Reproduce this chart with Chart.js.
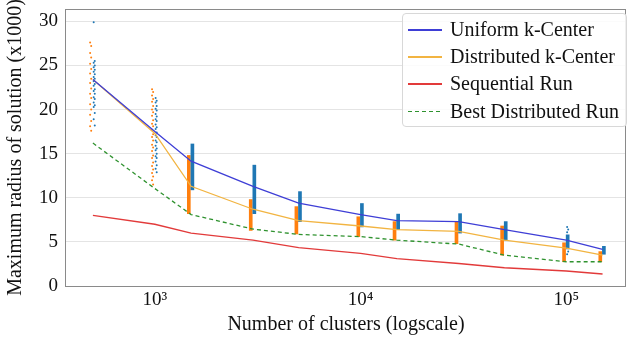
<!DOCTYPE html>
<html>
<head>
<meta charset="utf-8">
<script src="https://cdn.jsdelivr.net/npm/chart.js@4"></script>
<style>
  body { margin: 0; background: #fff; }
  #wrap { position: relative; width: 630px; height: 337px; }
  #legend {
    position: absolute; left: 402px; top: 13px; width: 225px; height: 114px;
    box-sizing: border-box; border: 1px solid #d8d8d8; border-radius: 4px;
    background: rgba(255, 255, 255, 0.85);
    font-family: "Liberation Serif", serif; font-size: 20px; color: #111;
  }
  .row { position: absolute; left: 0; height: 27px; line-height: 27px; white-space: nowrap; }
  .swatch { position: absolute; left: 5px; top: 13px; width: 34px; height: 1.5px; }
  .label { position: absolute; left: 47px; top: 0; }
</style>
</head>
<body>
<div id="wrap">
  <canvas id="chart" width="630" height="337"></canvas>
  <div id="legend"></div>
</div>
<script>
// number of clusters k
const clusters = [500, 1000, 1500, 3000, 5000, 10000, 15000, 30000, 50000, 100000, 150000];

// mean max radius (x1000)
const uniformKCenter = [23.4, 17.5, 14.15, 11.3, 9.4, 8.1, 7.4, 7.3, 6.4, 5.2, 4.15];
const distributedKCenter = [23.4, 17.3, 11.3, 8.7, 7.4, 6.8, 6.4, 6.2, 5.2, 4.3, 3.5];
const sequentialRun = [8.0, 7.0, 6.0, 5.2, 4.35, 3.7, 3.1, 2.55, 2.07, 1.7, 1.36];
const bestDistributedRun = [16.2, 11.05, 8.1, 6.45, 5.85, 5.6, 5.2, 4.75, 3.5, 2.75, 2.75];

// spread of the individual runs (dense part), null = only loose dots
const uniformSpread = [null, null, [10.9, 16.1], [8.2, 13.7], [7.3, 10.7], [6.7, 9.35],
  [6.4, 8.15], [6.0, 8.2], [5.2, 7.3], [4.2, 5.8], [3.6, 4.5]];
const distributedSpread = [null, null, [8.2, 14.8], [6.3, 9.8], [5.9, 9.0], [5.6, 7.85],
  [5.2, 7.3], [4.8, 7.3], [3.5, 6.8], [2.75, 4.9], [2.75, 3.9]];

// loose single runs
const uniformDots = [
  [29.9, 25.5, 25.3, 25.0, 24.8, 24.5, 24.3, 24.0, 23.7, 23.5, 23.2, 22.9, 22.7, 22.3, 22.1,
   21.8, 21.4, 21.2, 20.8, 20.5, 20.3, 19.6, 18.9, 18.2],
  [21.3, 21.0, 20.8, 20.4, 20.1, 19.9, 19.5, 19.2, 18.9, 18.7, 18.3, 18.0, 17.8, 17.4, 17.1,
   16.9, 16.5, 16.3, 15.9, 15.6, 15.4, 15.0, 14.7, 14.5, 14.1, 13.7, 13.3, 12.9],
  [], [], [], [], [], [],
  [],
  [6.7, 6.4, 6.1, 3.9, 3.6],
  []
];
const distributedDots = [
  [27.6, 27.2, 26.4, 25.9, 25.2, 24.6, 24.1, 23.5, 23.0, 22.4, 21.8, 21.3, 20.6, 20.0, 19.4,
   18.7, 18.1, 17.6],
  [22.3, 22.0, 21.6, 21.2, 20.9, 20.4, 20.0, 19.7, 19.3, 18.8, 18.4, 18.1, 17.7, 17.2, 16.9,
   16.5, 16.0, 15.7, 15.3, 14.8, 14.5, 14.0, 13.6, 13.2, 12.8, 12.4, 12.0, 11.5],
  [], [], [], [], [], [], [], [], []
];

const seriesLabels = ["Uniform k-Center", "Distributed k-Center", "Sequential Run", "Best Distributed Run"];
const xTicks = [1000, 10000, 100000];
const yTicks = [0, 5, 10, 15, 20, 25, 30];

const serif = "'Liberation Serif', 'Times New Roman', serif";
const BLUE_DOT = "#1f77b4";
const ORANGE_DOT = "#ff7f0e";
const lineColors = ["#3e3ed6", "#f2b441", "#e23a3a", "#2f922f"];
const lineDashes = [[], [], [], [4, 3]];

function line(values) {
  return clusters.map((k, i) => ({ x: k, y: values[i] }));
}
function spread(ranges, shift) {
  const out = [];
  ranges.forEach((r, i) => { if (r) out.push({ x: clusters[i] * shift, y: r }); });
  return out;
}
// small left/right stagger so the loose runs look like a strip, not a single column
function dots(lists, shift) {
  const out = [];
  lists.forEach((l, i) => l.forEach((v, j) =>
    out.push({ x: clusters[i] * shift * (j % 2 ? 1.006 : 0.994), y: v })));
  return out;
}

const lineValues = [uniformKCenter, distributedKCenter, sequentialRun, bestDistributedRun];
const lineSets = lineValues.map((vals, i) => ({
  type: "line",
  label: seriesLabels[i],
  data: line(vals),
  borderColor: lineColors[i],
  borderDash: lineDashes[i],
  borderWidth: 1.3,
  pointRadius: 0,
  tension: 0,
  fill: false
}));

// legend inside the plot
const legend = document.getElementById("legend");
seriesLabels.forEach((label, i) => {
  const row = document.createElement("div");
  row.className = "row";
  row.style.top = (2 + i * 27.2) + "px";
  const sw = document.createElement("div");
  sw.className = "swatch";
  if (lineDashes[i].length) {
    sw.style.background = "repeating-linear-gradient(90deg, " + lineColors[i] + " 0 4px, transparent 4px 7px)";
  } else {
    sw.style.background = lineColors[i];
  }
  const lb = document.createElement("span");
  lb.className = "label";
  lb.textContent = label;
  row.appendChild(sw);
  row.appendChild(lb);
  legend.appendChild(row);
});

const frame = {
  id: "frame",
  afterDraw(chart) {
    const a = chart.chartArea, ctx = chart.ctx;
    ctx.save();
    ctx.strokeStyle = "#8a8a8a";
    ctx.lineWidth = 1;
    ctx.strokeRect(Math.round(a.left) - 0.5, Math.round(a.top) + 0.5,
      Math.round(a.right - a.left), Math.round(a.bottom - a.top));
    ctx.restore();
  }
};

new Chart(document.getElementById("chart"), {
  type: "line",
  data: {
    datasets: [
      ...lineSets,
      { type: "bar", data: spread(uniformSpread, 1.015), backgroundColor: BLUE_DOT,
        grouped: false, maxBarThickness: 3, barPercentage: 1, categoryPercentage: 1 },
      { type: "bar", data: spread(distributedSpread, 0.975), backgroundColor: ORANGE_DOT,
        grouped: false, maxBarThickness: 3, barPercentage: 1, categoryPercentage: 1 },
      { type: "scatter", data: dots(uniformDots, 1.015), pointRadius: 1, borderWidth: 0,
        backgroundColor: BLUE_DOT },
      { type: "scatter", data: dots(distributedDots, 0.975), pointRadius: 1, borderWidth: 0,
        backgroundColor: ORANGE_DOT }
    ]
  },
  options: {
    responsive: false,
    animation: false,
    layout: { padding: { top: 9, right: 3, left: 0, bottom: 0 } },
    plugins: { legend: { display: false }, tooltip: { enabled: false } },
    scales: {
      x: {
        type: "logarithmic",
        min: 370,
        max: 195000,
        offset: false,
        afterFit: s => { s.height = 51; s.paddingLeft = 0; s.paddingRight = 0; },
        afterBuildTicks: s => { s.ticks = xTicks.map(v => ({ value: v })); },
        grid: { display: false, drawTicks: false },
        border: { display: false },
        ticks: {
          padding: 3,
          color: "#111",
          font: { family: serif, size: 19 },
          maxRotation: 0,
          callback: v => "10" + { 3: "\u00b3", 4: "\u2074", 5: "\u2075" }[Math.round(Math.log10(v))]
        },
        title: {
          display: true,
          text: "Number of clusters (logscale)",
          color: "#111",
          font: { family: serif, size: 20 },
          padding: { top: 0, bottom: 0 }
        }
      },
      y: {
        min: 0,
        max: 31.4,
        afterFit: s => { s.width = 66; s.paddingTop = 0; s.paddingBottom = 0; },
        afterBuildTicks: s => { s.ticks = yTicks.map(v => ({ value: v })); },
        grid: { color: "#e4e4e4", drawTicks: false },
        border: { display: false },
        ticks: { padding: 8, color: "#111", font: { family: serif, size: 19 } },
        title: {
          display: true,
          text: "Maximum radius of solution (x1000)",
          color: "#111",
          font: { family: serif, size: 20 },
          padding: { top: 4, bottom: 0 }
        }
      }
    }
  },
  plugins: [frame]
});
</script>
</body>
</html>
